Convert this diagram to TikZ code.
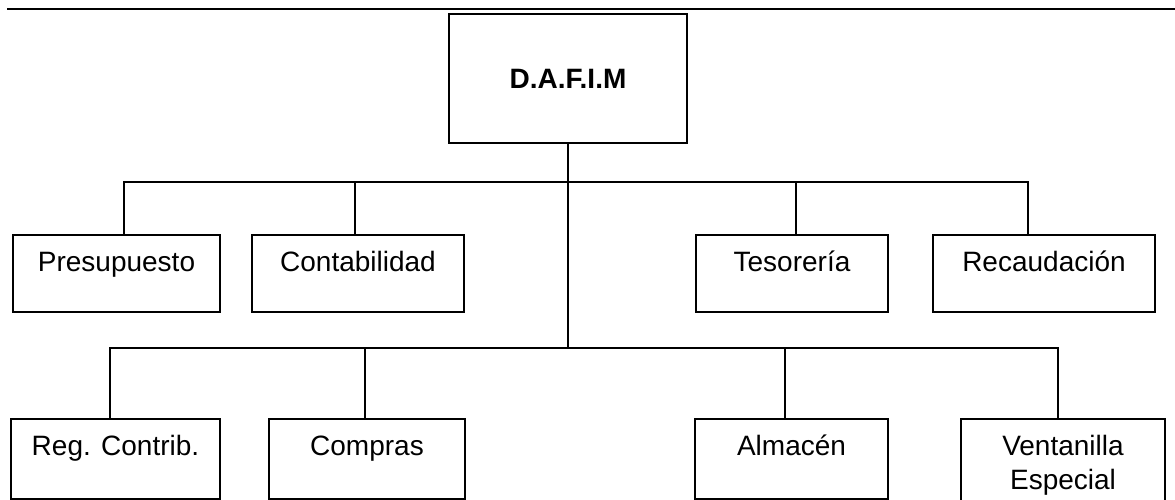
\documentclass[tikz,border=0pt]{standalone}
\usepackage{fontspec}
\setmainfont{Liberation Sans}

\begin{document}
\begin{tikzpicture}[
    x = 0.5pt,
    y = -0.5pt,
    line width = 1pt,
    unit/.style = {
      draw,
      rectangle,
      anchor = north west,
      align = center,
      font = \fontsize{14}{17}\selectfont,
      inner xsep = 0pt,
      inner ysep = 8pt,
      text height = 10pt
    },
    rowone/.style = {unit, text depth = 12.5pt},
    rowtwo/.style = {unit, text depth = 14pt}
  ]
  \useasboundingbox (0,0) rectangle (1175,499);

  % rule at the top
  \coordinate (ruleL) at (7,9);
  \coordinate (ruleR) at (1175,9);
  \draw (ruleL) -- (ruleR);

  \node[draw, anchor=north west, minimum width=119pt, minimum height=64.5pt,
        font=\fontsize{14}{17}\selectfont\bfseries] (dafim) at (448,13) {D.A.F.I.M};

  % first row
  \node[rowone, minimum width=103.5pt] (pres) at (12,234)  {Presupuesto};
  \node[rowone, minimum width=106pt]   (cont) at (251,234) {Contabilidad};
  \node[rowone, minimum width=96pt]    (tes)  at (695,234) {Tesorería};
  \node[rowone, minimum width=111pt]   (rec)  at (932,234) {Recaudación};

  % second row (two lines: baseline is the last one)
  \node[rowtwo, minimum width=104.5pt] (reg)  at (10,418)  {Reg. Contrib.};
  \node[rowtwo, minimum width=98pt]    (comp) at (268,418) {Compras};
  \node[rowtwo, minimum width=96.5pt]  (alm)  at (694,418) {Almacén};
  \node[rowtwo, minimum width=102pt, text height=27pt, text depth=-3pt]
        (vent) at (960,418) {Ventanilla\\Especial};

  % bars
  \coordinate (b1) at (124,182);
  \coordinate (b2) at (355,182);
  \coordinate (b3) at (796,182);
  \coordinate (b4) at (1028,182);
  \coordinate (c1) at (110,348);
  \coordinate (c2) at (365,348);
  \coordinate (c3) at (785,348);
  \coordinate (c4) at (1058,348);

  \draw (dafim.south) -- (dafim.south |- c1);

  \draw (b1 |- pres.north) -- (b1) -- (b4) -- (b4 |- rec.north);
  \draw (b2) -- (b2 |- cont.north);
  \draw (b3) -- (b3 |- tes.north);

  \draw (c1 |- reg.north) -- (c1) -- (c4) -- (c4 |- vent.north);
  \draw (c2) -- (c2 |- comp.north);
  \draw (c3) -- (c3 |- alm.north);
\end{tikzpicture}
\end{document}
